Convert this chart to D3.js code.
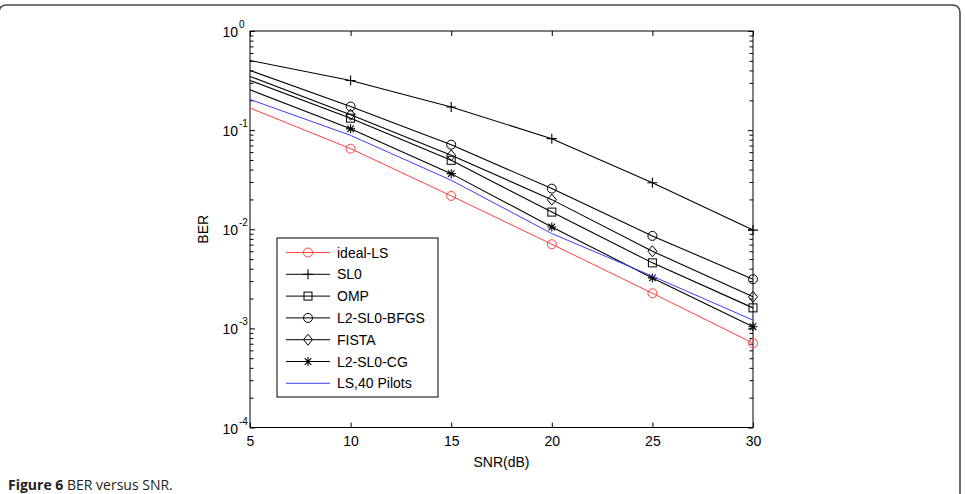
<!DOCTYPE html>
<html>
<head>
<meta charset="utf-8">
<script src="https://cdn.jsdelivr.net/npm/d3@7"></script>
<style>
  body { margin: 0; background: #fff; }
  text { font-family: "Liberation Sans", Arial, sans-serif; fill: #000; }
</style>
</head>
<body>
<div id="chart"></div>
<script>
// values (BER on a log axis)
const snr = [5, 10, 15, 20, 25, 30];
const idealLS = [0.167, 0.065, 0.0217, 0.00706, 0.00226, 0.00071];
const sl0 = [0.504, 0.317, 0.171, 0.082, 0.0295, 0.0098];
const omp = [0.317, 0.132, 0.0496, 0.0149, 0.00458, 0.00161];
const bfgs = [0.40, 0.173, 0.0713, 0.0257, 0.00857, 0.00313];
const fista = [0.348, 0.143, 0.0557, 0.0199, 0.006, 0.00208];
const cg = [0.255, 0.103, 0.0364, 0.01055, 0.00323, 0.00104];
const ls40 = [0.204, 0.0885, 0.0312, 0.00905, 0.00336, 0.00121];

const seriesNames = ["ideal-LS", "SL0", "OMP", "L2-SL0-BFGS", "FISTA", "L2-SL0-CG", "LS,40 Pilots"];
const decadeTicks = [1, 0.1, 0.01, 0.001, 0.0001];
const decadeExp = ["0", "-1", "-2", "-3", "-4"];

const width = 965;
const height = 494;
const plot = {left: 250, right: 753, top: 31, bottom: 427.5};

const svg = d3.select("#chart")
  .append("svg")
  .attr("width", width)
  .attr("height", height);

// outer frame of the figure panel (rounded corners)
svg.append("path")
  .attr("d", "M-1,520 L-1,13 Q-1,5 7,5 L952,5 Q960,5 960,13 L960,520")
  .attr("fill", "none")
  .attr("stroke", "#4a4a4a")
  .attr("stroke-width", 1.6);

/*
  SCALES
*/
const xScale = d3.scaleLinear()
  .domain([5, 30])
  .range([plot.left, plot.right]);

const yScale = d3.scaleLog()
  .domain([1e-4, 1])
  .range([plot.bottom, plot.top]);

// minor ticks 2..9 per decade
const minorTicks = [];
decadeTicks.slice(1).forEach(function(d) {
  for (let k = 2; k <= 9; k++) minorTicks.push(d * k);
});

/*
  AXES (MATLAB style: ticks inside the box)
*/
const xAxis = svg.append("g")
  .attr("transform", `translate(0,${plot.bottom})`)
  .call(d3.axisBottom(xScale).tickValues(snr).tickSizeInner(-5).tickSizeOuter(0).tickPadding(8.5));

svg.append("g")
  .attr("transform", `translate(0,${plot.top})`)
  .call(d3.axisTop(xScale).tickValues(snr).tickSizeInner(-5).tickSizeOuter(0).tickFormat(""));

svg.append("g")
  .attr("transform", `translate(${plot.left},0)`)
  .call(d3.axisLeft(yScale).tickValues(decadeTicks).tickSizeInner(-5).tickSizeOuter(0).tickFormat(""));
svg.append("g")
  .attr("transform", `translate(${plot.left},0)`)
  .call(d3.axisLeft(yScale).tickValues(minorTicks).tickSizeInner(-3.5).tickSizeOuter(0).tickFormat(""));
svg.append("g")
  .attr("transform", `translate(${plot.right},0)`)
  .call(d3.axisRight(yScale).tickValues(decadeTicks).tickSizeInner(-5).tickSizeOuter(0).tickFormat(""));
svg.append("g")
  .attr("transform", `translate(${plot.right},0)`)
  .call(d3.axisRight(yScale).tickValues(minorTicks).tickSizeInner(-3.5).tickSizeOuter(0).tickFormat(""));

svg.selectAll(".domain").remove();
svg.selectAll(".tick line").attr("stroke", "#000").attr("stroke-width", 1);
xAxis.selectAll("text")
  .attr("font-size", 14)
  .attr("font-family", "'Liberation Sans', Arial, sans-serif")
  .attr("fill", "#000");

// y tick labels 10^n
decadeTicks.forEach(function(d, i) {
  svg.append("text")
    .attr("x", 238)
    .attr("y", yScale(d) + 6)
    .attr("text-anchor", "end")
    .attr("font-size", 14)
    .text("10");
  svg.append("text")
    .attr("x", 239)
    .attr("y", yScale(d) - 3)
    .attr("font-size", 10)
    .text(decadeExp[i]);
});

// box
svg.append("rect")
  .attr("x", plot.left)
  .attr("y", plot.top)
  .attr("width", plot.right - plot.left)
  .attr("height", plot.bottom - plot.top)
  .attr("fill", "none")
  .attr("stroke", "#000")
  .attr("stroke-width", 1);

// axis titles
svg.append("text")
  .attr("x", (plot.left + plot.right) / 2)
  .attr("y", 467)
  .attr("text-anchor", "middle")
  .attr("font-size", 14)
  .text("SNR(dB)");

svg.append("text")
  .attr("transform", `translate(208,${(plot.top + plot.bottom) / 2}) rotate(-90)`)
  .attr("text-anchor", "middle")
  .attr("font-size", 14)
  .text("BER");

/*
  MARKERS
*/
function drawMarker(g, type, cx, cy, color) {
  if (type === "circle") {
    g.append("circle").attr("cx", cx).attr("cy", cy).attr("r", 4.5)
      .attr("fill", "none").attr("stroke", color).attr("stroke-width", 1);
  } else if (type === "square") {
    g.append("rect").attr("x", cx - 4).attr("y", cy - 4).attr("width", 8).attr("height", 8)
      .attr("fill", "none").attr("stroke", color).attr("stroke-width", 1);
  } else if (type === "diamond") {
    g.append("path").attr("d", `M${cx},${cy - 5.5}L${cx + 4.5},${cy}L${cx},${cy + 5.5}L${cx - 4.5},${cy}Z`)
      .attr("fill", "none").attr("stroke", color).attr("stroke-width", 1);
  } else if (type === "plus") {
    g.append("path").attr("d", `M${cx - 5},${cy}H${cx + 5}M${cx},${cy - 5}V${cy + 5}`)
      .attr("stroke", color).attr("stroke-width", 1.1);
  } else if (type === "star") {
    g.append("path").attr("d", `M${cx - 4.5},${cy}H${cx + 4.5}M${cx},${cy - 4.5}V${cy + 4.5}` +
        `M${cx - 3.3},${cy - 3.3}L${cx + 3.3},${cy + 3.3}M${cx - 3.3},${cy + 3.3}L${cx + 3.3},${cy - 3.3}`)
      .attr("stroke", color).attr("stroke-width", 1.1);
  }
}

const series = [
  {name: seriesNames[0], values: idealLS, color: "#ff4040", marker: "circle"},
  {name: seriesNames[1], values: sl0, color: "#000", marker: "plus"},
  {name: seriesNames[2], values: omp, color: "#000", marker: "square"},
  {name: seriesNames[3], values: bfgs, color: "#000", marker: "circle"},
  {name: seriesNames[4], values: fista, color: "#000", marker: "diamond"},
  {name: seriesNames[5], values: cg, color: "#000", marker: "star"},
  {name: seriesNames[6], values: ls40, color: "#3c3cff", marker: null}
];

const line = d3.line()
  .x(function(d, i) { return xScale(snr[i]); })
  .y(function(d) { return yScale(d); });

/*
  DRAW LINES + POINTS (no marker at the first SNR point, as in the original)
*/
series.forEach(function(s) {
  const g = svg.append("g");
  g.append("path")
    .datum(s.values)
    .attr("d", line)
    .attr("fill", "none")
    .attr("stroke", s.color)
    .attr("stroke-width", s.color === "#000" ? 1.1 : 1);
  if (s.marker) {
    s.values.forEach(function(v, i) {
      if (i === 0) return;
      drawMarker(g, s.marker, xScale(snr[i]), yScale(v), s.color);
    });
  }
});

/*
  LEGEND
*/
const legend = {x: 277, y: 238, w: 161, h: 159, row: 21.8, first: 14.5};

svg.append("rect")
  .attr("x", legend.x)
  .attr("y", legend.y)
  .attr("width", legend.w)
  .attr("height", legend.h)
  .attr("fill", "#fff")
  .attr("stroke", "#000")
  .attr("stroke-width", 1);

series.forEach(function(s, i) {
  const cy = legend.y + legend.first + i * legend.row;
  const g = svg.append("g");
  g.append("line")
    .attr("x1", 286).attr("x2", 330)
    .attr("y1", cy).attr("y2", cy)
    .attr("stroke", s.color)
    .attr("stroke-width", 1);
  if (s.marker) drawMarker(g, s.marker, 308, cy, s.color);
  g.append("text")
    .attr("x", 337)
    .attr("y", cy + 5)
    .attr("font-size", 14)
    .text(s.name);
});

// caption
const cap = svg.append("text")
  .attr("x", 8)
  .attr("y", 490)
  .attr("font-size", 14)
  .style("font-family", "'Open Sans', 'Noto Sans', sans-serif")
  .style("fill", "#231f20");
cap.append("tspan").attr("font-weight", "bold").text("Figure 6");
cap.append("tspan").text(" BER versus SNR.");
</script>
</body>
</html>
